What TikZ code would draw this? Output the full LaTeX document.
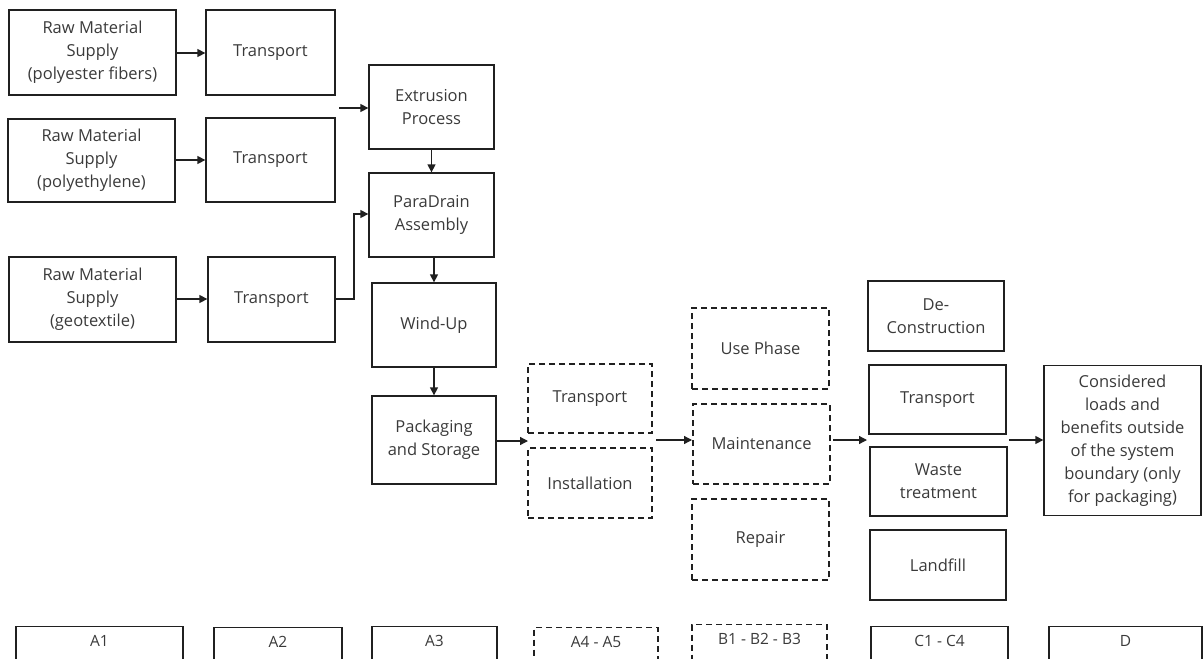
\documentclass[tikz,border=0pt]{standalone}
\usepackage{fontspec}
\setmainfont{Open Sans}
\usetikzlibrary{arrows.meta}
\definecolor{txt}{HTML}{3A3A3A}
\definecolor{ln}{HTML}{202020}
\tikzset{
  box/.style={draw=ln, line width=1.3pt, rectangle, align=center, text=txt,
    font=\fontsize{16.5}{23}\selectfont, inner sep=2pt},
  dbox/.style={box, dash pattern=on 6pt off 4pt},
  conn/.style={draw=ln, line width=1.3pt, -{Triangle[length=8pt,width=8pt]}},
  lbl/.style={box, font=\fontsize{15.5}{18}\selectfont, anchor=north,
    minimum height=60pt, text height=10pt, text depth=30pt},
}
\begin{document}
\begin{tikzpicture}[x=1pt,y=-1pt]
\useasboundingbox (0,0) rectangle (1203,659);
\clip (0,0) rectangle (1203,659);
% A1 column
\node[box, minimum width=167pt, minimum height=85pt] (rm1) at (92.5,52.5) {Raw Material\\Supply\\(polyester fibers)};
\node[box, minimum width=167pt, minimum height=83pt] (rm2) at (91.5,160.5) {Raw Material\\Supply\\(polyethylene)};
\node[box, minimum width=167pt, minimum height=85pt] (rm3) at (92.5,299.5) {Raw Material\\Supply\\(geotextile)};
% A2 column
\node[box, minimum width=129pt, minimum height=85pt] (t1) at (270.5,52.5) {Transport};
\node[box, minimum width=129pt, minimum height=84pt] (t2) at (270.5,160) {Transport};
\node[box, minimum width=127pt, minimum height=85pt] (t3) at (271.5,299.5) {Transport};
% A3 column
\node[box, minimum width=125pt, minimum height=84pt] (ext) at (431.5,107) {Extrusion\\Process};
\node[box, minimum width=125pt, minimum height=84pt] (para) at (431.5,215) {ParaDrain\\Assembly};
\node[box, minimum width=124pt, minimum height=84pt] (wind) at (434,325) {Wind-Up};
\node[box, minimum width=124pt, minimum height=88pt] (pack) at (434,440) {Packaging\\and Storage};
% A4-A5
\node[dbox, minimum width=124pt, minimum height=69pt] (tra) at (590,398.5) {Transport};
\node[dbox, minimum width=124pt, minimum height=70pt] (inst) at (590,483) {Installation};
% B
\node[dbox, minimum width=137pt, minimum height=81pt] (use) at (760.5,348.5) {Use Phase};
\node[dbox, minimum width=137pt, minimum height=80pt] (maint) at (761.5,444) {Maintenance};
\node[dbox, minimum width=137pt, minimum height=81pt] (rep) at (760.5,539.5) {Repair};
% C
\node[box, minimum width=136pt, minimum height=70pt] (dec) at (936,316) {De-\\Construction};
\node[box, minimum width=137pt, minimum height=69pt] (trc) at (937.5,399.5) {Transport};
\node[box, minimum width=137pt, minimum height=69pt] (waste) at (938.5,481.5) {Waste\\treatment};
\node[box, minimum width=136pt, minimum height=70pt] (land) at (938,565) {Landfill};
% D
\node[box, minimum width=157pt, minimum height=150pt] (dd) at (1122.5,440.5) {Considered\\loads and\\benefits outside\\of the system\\boundary (only\\for packaging)};
% bottom labels
\node[lbl, minimum width=167pt] (la1) at (99.5,626) {A1};
\node[lbl, minimum width=128pt] (la2) at (278,627) {A2};
\node[lbl, minimum width=125pt] (la3) at (434.5,626) {A3};
\node[lbl, dash pattern=on 6pt off 4pt, minimum width=124pt] (la4) at (596,627) {A4 - A5};
\node[lbl, dash pattern=on 6pt off 4pt, minimum width=135pt] (lb) at (759.5,624) {B1 - B2 - B3};
\node[lbl, minimum width=137pt] (lc) at (939.5,626) {C1 - C4};
\node[lbl, minimum width=153pt] (ld) at (1125.5,626) {D};
% coordinates for free ends / group edges
\coordinate (extin) at (339,108);
\coordinate (g1in) at (528,441);
\coordinate (g1out) at (656,440);
\coordinate (g2in) at (692,440);
\coordinate (g2out) at (833,440);
\coordinate (g3in) at (867,440);
\coordinate (g3out) at (1009,440);
\coordinate (bend) at (354,299);
% connectors
\draw[conn] (rm1.east |- 0,53) -- (t1.west |- 0,53);
\draw[conn] (rm2.east |- 0,160) -- (t2.west |- 0,160);
\draw[conn] (rm3.east |- 0,299) -- (t3.west |- 0,299);
\draw[conn] (extin) -- (ext.west |- extin);
\draw[conn] (t3.east |- bend) -- (bend) |- (para.west |- 0,214);
\draw[conn] (ext.south) -- (para.north);
\draw[conn] (wind.north |- para.south) -- (wind.north);
\draw[conn] (wind.south) -- (pack.north);
\draw[conn] (pack.east |- g1in) -- (g1in);
\draw[conn] (g1out) -- (g2in);
\draw[conn] (g2out) -- (g3in);
\draw[conn] (g3out) -- (dd.west |- g3out);
\end{tikzpicture}
\end{document}
